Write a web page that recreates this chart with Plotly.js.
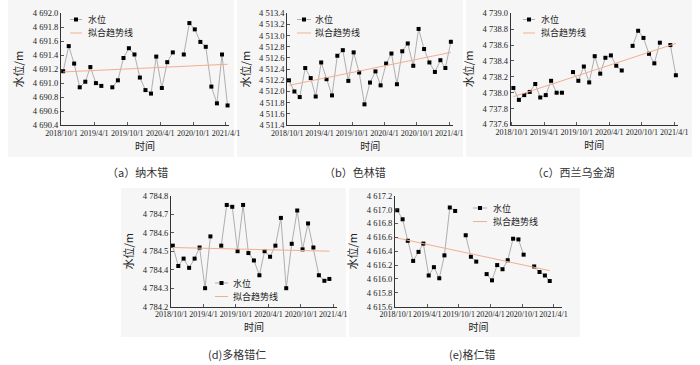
<!DOCTYPE html>
<html><head><meta charset="utf-8">
<script src="https://cdn.plot.ly/plotly-3.0.1.min.js"></script>
<style>html,body{margin:0;padding:0;background:#fff}#chart{width:700px;height:365px}</style>
</head><body><div id="chart"></div>
<script>
// ---- data ----
const dates = ['2018-10-10','2018-11-10','2018-12-10','2019-01-10','2019-02-10','2019-03-10','2019-04-10','2019-05-10','2019-06-10','2019-07-10','2019-08-10','2019-09-10','2019-10-10','2019-11-10','2019-12-10','2020-01-10','2020-02-10','2020-03-10','2020-04-10','2020-05-10','2020-06-10','2020-07-10','2020-08-10','2020-09-10','2020-10-10','2020-11-10','2020-12-10','2021-01-10','2021-02-10','2021-03-10','2021-04-10'];
const tickDates = ['2018-10-01','2019-04-01','2019-10-01','2020-04-01','2020-10-01','2021-04-01'];
const tickLabels = ['2018/10/1','2019/4/1','2019/10/1','2020/4/1','2020/10/1','2021/4/1'];

const levelA = [4691.17,4691.53,4691.28,4690.94,4691.02,4691.23,4691.00,4690.96,null,4690.94,4691.04,4691.36,4691.50,4691.41,4691.08,4690.90,4690.85,4691.38,4690.93,4691.30,4691.44,null,4691.41,4691.86,4691.77,4691.59,4691.52,4690.95,4690.71,4691.41,4690.68];
const levelB = [4512.20,4512.00,4511.90,4512.42,4512.24,4511.91,4512.52,4512.22,4511.93,4512.64,4512.74,4512.19,4512.70,4512.34,4511.77,4512.16,4512.36,4512.11,4512.50,4512.68,4512.13,4512.72,4512.86,4512.46,4513.12,4512.76,4512.52,4512.35,4512.56,4512.42,4512.89];
const levelC = [4738.06,4737.91,4737.97,4738.01,4738.11,4737.94,4737.97,4738.15,4738.00,4738.00,null,4738.26,4738.15,4738.33,4738.13,4738.46,4738.24,4738.44,4738.47,4738.34,4738.28,null,4738.59,4738.78,4738.69,4738.49,4738.37,4738.63,null,4738.60,4738.22];
const levelD = [4784.53,4784.42,4784.46,4784.41,4784.46,4784.52,4784.30,4784.58,null,4784.53,4784.75,4784.74,4784.50,4784.75,4784.49,4784.45,4784.37,4784.50,4784.47,4784.53,4784.68,4784.30,4784.54,4784.72,4784.51,4784.65,4784.52,4784.37,4784.34,4784.35,null];
const levelE = [4616.99,4616.86,4616.55,4616.26,4616.39,4616.51,4616.05,4616.17,4616.01,4616.34,4617.03,4616.98,null,4616.63,4616.32,4616.25,null,4616.07,4615.98,4616.20,4616.14,4616.27,4616.58,4616.57,4616.35,null,4616.18,4616.10,4616.05,4615.97,null];

// fitted trend line end values (start, end)
const trendA = [4691.16, 4691.27];
const trendB = [4512.11, 4512.70];
const trendC = [4737.95, 4738.62];
const trendD = [4784.52, 4784.50];
const trendE = [4616.59, 4616.12];

const panelCaptions = ['（a）纳木错','（b）色林错','（c）西兰乌金湖','(d)多格错仁','(e)格仁错'];
const seriesName = '水位';
const trendName = '拟合趋势线';
const xTitle = '时间';
const yTitle = '水位/m';

// ---- layout / styling ----
const W = 700, H = 365;
const fx = x => x / W;
const fy = y => 1 - y / H;
const CJK = '"Noto Sans CJK SC", "Noto Sans", sans-serif';
const SERIF = '"Liberation Serif", "DejaVu Serif", serif';
const LINE_GRAY = '#9c9c9c';
const TREND = '#f2ae92';

const panels = [
  {data: levelA, trend: trendA, L: 61, R: 229, T: 13.3, B: 125, xr: ['2018-09-28','2021-04-18'], yr: [4690.4, 4692.0], dtick: 0.2,
   leg: {x0: 70, x1: 82, tx: 87, y1: 19.5, y2: 33}, cap: {x: 137, y: 172}, bg: [8, 0, 234, 157]},
  {data: levelB, trend: trendB, L: 287.3, R: 453, T: 13.3, B: 125, xr: ['2018-10-01','2021-04-22'], yr: [4511.4, 4513.4], dtick: 0.2,
   leg: {x0: 297, x1: 311, tx: 314, y1: 19.5, y2: 33}, cap: {x: 355, y: 172}, bg: [237, 0, 463, 157]},
  {data: levelC, trend: trendC, L: 510.7, R: 678, T: 13.3, B: 124.5, xr: ['2018-09-25','2021-04-22'], yr: [4737.6, 4739.0], dtick: 0.2,
   leg: {x0: 523, x1: 535, tx: 540, y1: 19.5, y2: 33}, cap: {x: 573, y: 172}, bg: [466, 0, 692, 157]},
  {data: levelD, trend: trendD, L: 171, R: 337, T: 195.7, B: 306.7, xr: ['2018-09-30','2021-04-22'], yr: [4784.2, 4784.8], dtick: 0.1,
   leg: {x0: 215, x1: 228, tx: 232, y1: 283, y2: 296.5}, cap: {x: 237, y: 354}, bg: [121, 188, 346, 337]},
  {data: levelE, trend: trendE, L: 395, R: 562, T: 195.7, B: 306.7, xr: ['2018-09-27','2021-05-20'], yr: [4615.6, 4617.2], dtick: 0.2,
   leg: {x0: 473, x1: 487, tx: 492, y1: 208, y2: 221.5}, cap: {x: 472, y: 354}, bg: [349, 188, 580, 337]}
];

const traces = [];
const layout = {
  width: W, height: H,
  margin: {l: 0, r: 0, t: 0, b: 0},
  paper_bgcolor: '#ffffff',
  plot_bgcolor: 'rgba(0,0,0,0)',
  showlegend: false,
  separators: '. ',
  font: {family: SERIF, size: 9, color: '#222'},
  shapes: [],
  annotations: []
};

panels.forEach((p, i) => {
  const n = i === 0 ? '' : String(i + 1);
  const xa = 'x' + n, ya = 'y' + n;
  let first = p.data.findIndex(v => v !== null);
  let last = p.data.length - 1;
  while (p.data[last] === null) last--;

  traces.push({
    type: 'scatter', mode: 'lines+markers', name: seriesName,
    x: dates, y: p.data, xaxis: xa, yaxis: ya,
    line: {color: LINE_GRAY, width: 0.8},
    marker: {symbol: 'square', size: 4, color: '#000'},
    connectgaps: false, cliponaxis: false
  });
  traces.push({
    type: 'scatter', mode: 'lines', name: trendName,
    x: [dates[first], dates[last]], y: p.trend, xaxis: xa, yaxis: ya,
    line: {color: TREND, width: 1}
  });

  layout['xaxis' + n] = {
    type: 'date', domain: [fx(p.L), fx(p.R)], range: p.xr, anchor: ya,
    tickmode: 'array', tickvals: tickDates, ticktext: tickLabels, tickangle: 0,
    ticks: 'inside', ticklen: 3, tickwidth: 0.8, tickcolor: '#333',
    showline: true, linecolor: '#333', linewidth: 1, showgrid: false, zeroline: false,
    tickfont: {family: SERIF, size: 8, color: '#222'},
    title: {text: xTitle, font: {family: CJK, size: 10, color: '#222'}, standoff: 5},
    fixedrange: true
  };
  layout['yaxis' + n] = {
    domain: [fy(p.B), fy(p.T)], range: p.yr, anchor: xa,
    tick0: p.yr[0], dtick: p.dtick, tickformat: ',.1f',
    ticks: 'inside', ticklen: 3, tickwidth: 0.8, tickcolor: '#333',
    showline: true, linecolor: '#333', linewidth: 1, showgrid: false, zeroline: false,
    tickfont: {family: SERIF, size: 8.5, color: '#222'},
    title: {text: yTitle, font: {family: CJK, size: 11, color: '#222'}, standoff: 6},
    fixedrange: true
  };

  // panel background
  layout.shapes.push({type: 'rect', xref: 'paper', yref: 'paper', layer: 'below',
    x0: fx(p.bg[0]), x1: fx(p.bg[2]), y0: fy(p.bg[3]), y1: fy(p.bg[1]),
    fillcolor: '#f6f6f6', line: {width: 0}});

  // legend samples
  const lg = p.leg;
  layout.shapes.push({type: 'line', xref: 'paper', yref: 'paper',
    x0: fx(lg.x0), x1: fx(lg.x1), y0: fy(lg.y1), y1: fy(lg.y1), line: {color: LINE_GRAY, width: 0.8}});
  const mx = (lg.x0 + lg.x1) / 2;
  layout.shapes.push({type: 'rect', xref: 'paper', yref: 'paper',
    x0: fx(mx - 2), x1: fx(mx + 2), y0: fy(lg.y1 + 2), y1: fy(lg.y1 - 2), fillcolor: '#000', line: {width: 0}});
  layout.shapes.push({type: 'line', xref: 'paper', yref: 'paper',
    x0: fx(lg.x0), x1: fx(lg.x1), y0: fy(lg.y2), y1: fy(lg.y2), line: {color: TREND, width: 1}});
  layout.annotations.push({xref: 'paper', yref: 'paper', x: fx(lg.tx), y: fy(lg.y1), xanchor: 'left', yanchor: 'middle',
    text: seriesName, showarrow: false, font: {family: CJK, size: 9, color: '#222'}, borderpad: 0});
  layout.annotations.push({xref: 'paper', yref: 'paper', x: fx(lg.tx), y: fy(lg.y2), xanchor: 'left', yanchor: 'middle',
    text: trendName, showarrow: false, font: {family: CJK, size: 9, color: '#222'}, borderpad: 0});

  // caption
  layout.annotations.push({xref: 'paper', yref: 'paper', x: fx(p.cap.x), y: fy(p.cap.y), xanchor: 'center', yanchor: 'middle',
    text: panelCaptions[i], showarrow: false, font: {family: CJK, size: 11, color: '#333'}});
});

Plotly.newPlot('chart', traces, layout, {displayModeBar: false, staticPlot: true});
</script>
</body></html>
